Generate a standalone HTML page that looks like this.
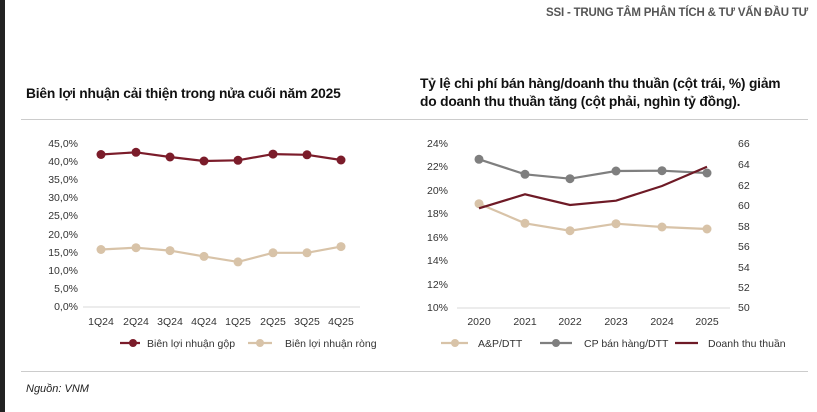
<!DOCTYPE html>
<html><head><meta charset="utf-8"><style>
body{margin:0;width:817px;height:412px;background:#fff;overflow:hidden;position:relative;font-family:"Liberation Sans","DejaVu Sans",sans-serif}
.t{position:absolute;white-space:nowrap}
</style></head><body>
<div style="position:absolute;left:0;top:0;width:5px;height:412px;background:#222"></div>
<div class="t" style="right:9px;top:7px;font-size:11.5px;font-weight:bold;color:#555;letter-spacing:-0.2px">SSI - TRUNG TÂM PHÂN TÍCH &amp; TƯ VẤN ĐẦU TƯ</div>
<div class="t" style="left:26px;top:86px;font-size:13.8px;font-weight:bold;color:#111;letter-spacing:-0.2px">Biên lợi nhuận cải thiện trong nửa cuối năm 2025</div>
<div class="t" style="left:420px;top:75px;font-size:13.8px;font-weight:bold;color:#111;line-height:18px;letter-spacing:-0.2px">Tỷ lệ chi phí bán hàng/doanh thu thuần (cột trái, %) giảm<br>do doanh thu thuần tăng (cột phải, nghìn tỷ đồng).</div>
<div style="position:absolute;left:21px;top:119px;width:787px;height:1px;background:#ccc"></div>
<div style="position:absolute;left:21px;top:371px;width:787px;height:1px;background:#ccc"></div>
<div class="t" style="left:26px;top:383px;font-size:11px;font-style:italic;color:#222">Nguồn: VNM</div>
<svg width="817" height="412" style="position:absolute;left:0;top:0" font-family="Liberation Sans, sans-serif" font-size="10.5" fill="#333">
<line x1="83" y1="307" x2="360" y2="307" stroke="#d9d9d9"/>
<g text-anchor="end">
<text x="78" y="147">45,0%</text><text x="78" y="165">40,0%</text><text x="78" y="183">35,0%</text><text x="78" y="201">30,0%</text><text x="78" y="219">25,0%</text><text x="78" y="238">20,0%</text><text x="78" y="256">15,0%</text><text x="78" y="274">10,0%</text><text x="78" y="292">5,0%</text><text x="78" y="310">0,0%</text>
</g>
<g text-anchor="middle">
<text x="101" y="325">1Q24</text><text x="136" y="325">2Q24</text><text x="170" y="325">3Q24</text><text x="204" y="325">4Q24</text><text x="238" y="325">1Q25</text><text x="273" y="325">2Q25</text><text x="307" y="325">3Q25</text><text x="341" y="325">4Q25</text>
</g>
<polyline fill="none" stroke="#7b1c2a" stroke-width="2.2" points="101,154.5 136,152.3 170,157 204,161 238,160.3 273,154.1 307,154.8 341,160"/>
<g fill="#7b1c2a"><circle cx="101" cy="154.5" r="4.5"/><circle cx="136" cy="152.3" r="4.5"/><circle cx="170" cy="157" r="4.5"/><circle cx="204" cy="161" r="4.5"/><circle cx="238" cy="160.3" r="4.5"/><circle cx="273" cy="154.1" r="4.5"/><circle cx="307" cy="154.8" r="4.5"/><circle cx="341" cy="160" r="4.5"/></g>
<polyline fill="none" stroke="#d8c3a8" stroke-width="2.2" points="101,249.5 136,247.7 170,250.6 204,256.4 238,261.9 273,252.8 307,252.8 341,246.6"/>
<g fill="#d8c3a8"><circle cx="101" cy="249.5" r="4.5"/><circle cx="136" cy="247.7" r="4.5"/><circle cx="170" cy="250.6" r="4.5"/><circle cx="204" cy="256.4" r="4.5"/><circle cx="238" cy="261.9" r="4.5"/><circle cx="273" cy="252.8" r="4.5"/><circle cx="307" cy="252.8" r="4.5"/><circle cx="341" cy="246.6" r="4.5"/></g>
<line x1="120" y1="343" x2="140" y2="343" stroke="#7b1c2a" stroke-width="2.2"/><circle cx="133" cy="343" r="4" fill="#7b1c2a"/>
<text x="147" y="347">Biên lợi nhuận gộp</text>
<line x1="248" y1="343" x2="272" y2="343" stroke="#d8c3a8" stroke-width="2.2"/><circle cx="260" cy="343" r="4" fill="#d8c3a8"/>
<text x="285" y="347">Biên lợi nhuận ròng</text>

<line x1="457" y1="308" x2="730" y2="308" stroke="#d9d9d9"/>
<g text-anchor="end">
<text x="448" y="147">24%</text><text x="448" y="170">22%</text><text x="448" y="194">20%</text><text x="448" y="217">18%</text><text x="448" y="241">16%</text><text x="448" y="264">14%</text><text x="448" y="288">12%</text><text x="448" y="311">10%</text>
</g>
<g>
<text x="738" y="147">66</text><text x="738" y="168">64</text><text x="738" y="189">62</text><text x="738" y="209">60</text><text x="738" y="230">58</text><text x="738" y="250">56</text><text x="738" y="271">54</text><text x="738" y="291">52</text><text x="738" y="311">50</text>
</g>
<g text-anchor="middle">
<text x="479" y="325">2020</text><text x="525" y="325">2021</text><text x="570" y="325">2022</text><text x="616" y="325">2023</text><text x="662" y="325">2024</text><text x="707" y="325">2025</text>
</g>
<polyline fill="none" stroke="#7f7f7f" stroke-width="2.2" points="479,159.3 525,174.3 570,178.7 616,171 662,170.7 707,173"/>
<g fill="#7f7f7f"><circle cx="479" cy="159.3" r="4.5"/><circle cx="525" cy="174.3" r="4.5"/><circle cx="570" cy="178.7" r="4.5"/><circle cx="616" cy="171" r="4.5"/><circle cx="662" cy="170.7" r="4.5"/><circle cx="707" cy="173" r="4.5"/></g>
<polyline fill="none" stroke="#d8c3a8" stroke-width="2.2" points="479,203.7 525,223.3 570,230.7 616,223.7 662,227 707,229"/>
<g fill="#d8c3a8"><circle cx="479" cy="203.7" r="4.5"/><circle cx="525" cy="223.3" r="4.5"/><circle cx="570" cy="230.7" r="4.5"/><circle cx="616" cy="223.7" r="4.5"/><circle cx="662" cy="227" r="4.5"/><circle cx="707" cy="229" r="4.5"/></g>
<polyline fill="none" stroke="#6e1a26" stroke-width="2.2" points="479,208.3 525,194.3 570,205 616,200.7 662,186 707,166.7"/>
<line x1="441" y1="343" x2="468" y2="343" stroke="#d8c3a8" stroke-width="2.2"/><circle cx="455" cy="343" r="4" fill="#d8c3a8"/>
<text x="478" y="347">A&amp;P/DTT</text>
<line x1="540" y1="343" x2="572" y2="343" stroke="#7f7f7f" stroke-width="2.2"/><circle cx="556" cy="343" r="4" fill="#7f7f7f"/>
<text x="584" y="347">CP bán hàng/DTT</text>
<line x1="675" y1="343" x2="698" y2="343" stroke="#6e1a26" stroke-width="2.2"/>
<text x="708" y="347">Doanh thu thuần</text>
</svg>
</body></html>
